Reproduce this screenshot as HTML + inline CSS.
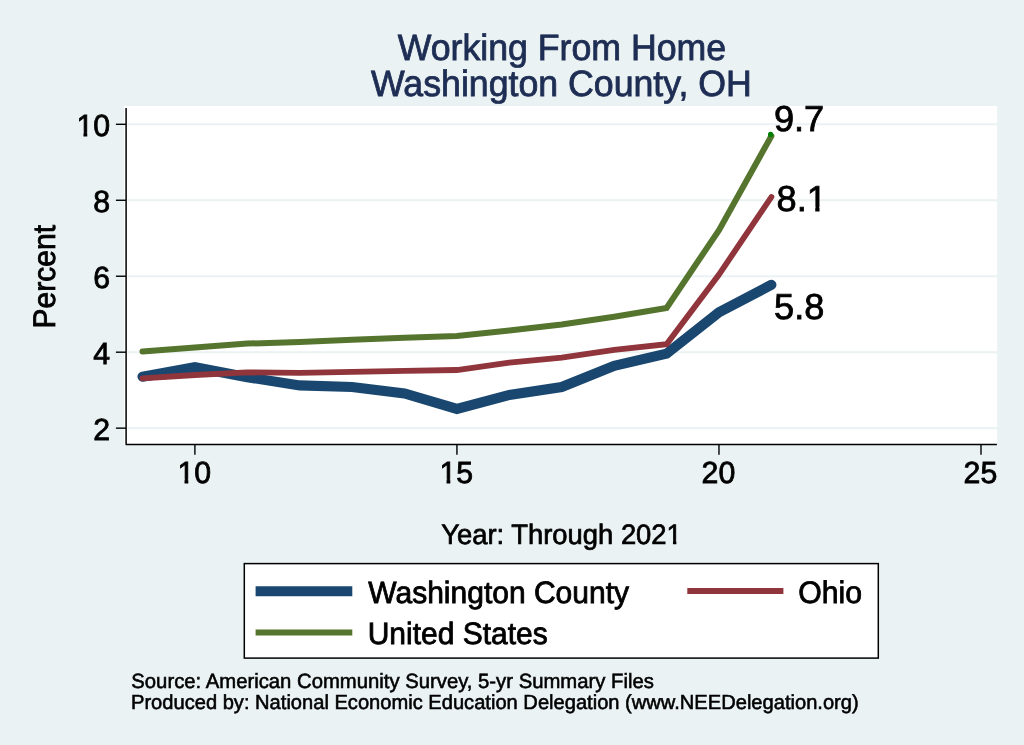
<!DOCTYPE html>
<html><head><meta charset="utf-8"><title>Working From Home - Washington County, OH</title>
<style>
html,body{margin:0;padding:0;background:#eaf2f3;overflow:hidden;}
svg{display:block;}
text{font-family:"Liberation Sans",Arial,Helvetica,sans-serif;text-rendering:geometricPrecision;}
</style></head><body>
<svg width="1024" height="745" viewBox="0 0 1024 745">
<rect x="0" y="0" width="1024" height="745" fill="#eaf2f3"/>
<rect x="124.1" y="106" width="873" height="339" fill="#ffffff"/>
<line x1="127.5" x2="997" y1="428.15" y2="428.15" stroke="#eaf2f3" stroke-width="2.1"/>
<line x1="127.5" x2="997" y1="352.19" y2="352.19" stroke="#eaf2f3" stroke-width="2.1"/>
<line x1="127.5" x2="997" y1="276.23" y2="276.23" stroke="#eaf2f3" stroke-width="2.1"/>
<line x1="127.5" x2="997" y1="200.27" y2="200.27" stroke="#eaf2f3" stroke-width="2.1"/>
<line x1="127.5" x2="997" y1="124.31" y2="124.31" stroke="#eaf2f3" stroke-width="2.1"/>

<polyline points="142.5,376.7 194.9,367.2 247.3,377.2 299.7,385.4 352.1,387.0 404.5,393.5 456.9,408.9 509.3,394.9 561.7,387.0 614.2,365.8 666.6,353.6 719.0,312.3 771.4,284.8" fill="none" stroke="#1a476f" stroke-width="10.1" stroke-linecap="round" stroke-linejoin="miter"/>
<polyline points="142.5,378.3 194.9,375.0 247.3,372.4 299.7,372.9 352.1,371.8 404.5,370.8 456.9,370.0 509.3,362.7 561.7,357.6 614.2,349.9 666.6,344.2 719.0,274.5 771.4,197.0" fill="none" stroke="#90353b" stroke-width="5.8" stroke-linecap="round" stroke-linejoin="miter"/>
<polyline points="142.5,351.5 194.9,347.5 247.3,343.6 299.7,341.9 352.1,339.7 404.5,337.8 456.9,336.0 509.3,330.4 561.7,324.5 614.2,316.7 666.6,307.9 719.0,230.1 771.4,136.0" fill="none" stroke="#55752f" stroke-width="6.0" stroke-linecap="round" stroke-linejoin="miter"/>
<circle cx="770.6" cy="134.4" r="2.6" fill="#008000"/>
<polyline points="126.1,107.9 126.1,444.5 996.9,444.5" fill="none" stroke="#000" stroke-width="1.5" stroke-linejoin="round"/>
<line x1="115.9" x2="126" y1="428.15" y2="428.15" stroke="#000" stroke-width="1.4"/>
<line x1="115.9" x2="126" y1="352.19" y2="352.19" stroke="#000" stroke-width="1.4"/>
<line x1="115.9" x2="126" y1="276.23" y2="276.23" stroke="#000" stroke-width="1.4"/>
<line x1="115.9" x2="126" y1="200.27" y2="200.27" stroke="#000" stroke-width="1.4"/>
<line x1="115.9" x2="126" y1="124.31" y2="124.31" stroke="#000" stroke-width="1.4"/>
<line y1="444.5" y2="454.7" x1="194.90" x2="194.90" stroke="#000" stroke-width="1.4"/>
<line y1="444.5" y2="454.7" x1="456.93" x2="456.93" stroke="#000" stroke-width="1.4"/>
<line y1="444.5" y2="454.7" x1="718.97" x2="718.97" stroke="#000" stroke-width="1.4"/>
<line y1="444.5" y2="454.7" x1="981.00" x2="981.00" stroke="#000" stroke-width="1.4"/>

<g><g transform="translate(110.10,440.00) scale(1,1.008)"><text class="tx" font-size="30.30" text-anchor="end" fill="#000" stroke="#000" stroke-width="0.80">2</text></g>
<g transform="translate(110.10,364.00) scale(1,1.008)"><text class="tx" font-size="30.30" text-anchor="end" fill="#000" stroke="#000" stroke-width="0.80">4</text></g>
<g transform="translate(110.10,288.00) scale(1,1.008)"><text class="tx" font-size="30.30" text-anchor="end" fill="#000" stroke="#000" stroke-width="0.80">6</text></g>
<g transform="translate(110.10,212.00) scale(1,1.008)"><text class="tx" font-size="30.30" text-anchor="end" fill="#000" stroke="#000" stroke-width="0.80">8</text></g>
<g transform="translate(110.10,136.00) scale(1,1.008)"><text class="tx" font-size="30.30" text-anchor="end" fill="#000" stroke="#000" stroke-width="0.80">10</text><rect x="-32.79" y="-3.65" width="6.16" height="5.64" fill="#eaf2f3"/><rect x="-22.85" y="-3.65" width="6.12" height="5.64" fill="#eaf2f3"/></g>
</g>
<g><g transform="translate(194.30,483.00) scale(1,1.008)"><text class="tx" font-size="30.30" text-anchor="middle" fill="#000" stroke="#000" stroke-width="0.80">10</text><rect x="-15.94" y="-3.65" width="6.16" height="5.64" fill="#eaf2f3"/><rect x="-6.00" y="-3.65" width="6.12" height="5.64" fill="#eaf2f3"/></g>
<g transform="translate(456.33,483.00) scale(1,1.008)"><text class="tx" font-size="30.30" text-anchor="middle" fill="#000" stroke="#000" stroke-width="0.80">15</text><rect x="-15.94" y="-3.65" width="6.16" height="5.64" fill="#eaf2f3"/><rect x="-6.00" y="-3.65" width="6.12" height="5.64" fill="#eaf2f3"/></g>
<g transform="translate(718.37,483.00) scale(1,1.008)"><text class="tx" font-size="30.30" text-anchor="middle" fill="#000" stroke="#000" stroke-width="0.80">20</text></g>
<g transform="translate(980.40,483.00) scale(1,1.008)"><text class="tx" font-size="30.30" text-anchor="middle" fill="#000" stroke="#000" stroke-width="0.80">25</text></g>
</g>
<g transform="translate(773.90,131.00) scale(1,0.995)"><text class="tx" font-size="36.20" text-anchor="start" fill="#000" stroke="#000" stroke-width="0.80" id="l97">9.7</text></g>
<g transform="translate(776.50,211.00) scale(1,0.995)"><text class="tx" font-size="36.20" text-anchor="start" fill="#000" stroke="#000" stroke-width="0.80" id="l81">8.1</text><rect x="31.26" y="-4.11" width="7.47" height="6.12" fill="#ffffff"/><rect x="43.03" y="-4.11" width="7.41" height="6.12" fill="#ffffff"/></g>
<g transform="translate(774.00,319.00) scale(1,0.995)"><text class="tx" font-size="36.20" text-anchor="start" fill="#000" stroke="#000" stroke-width="0.80" id="l58">5.8</text></g>

<g transform="translate(561.90,60.00) scale(1,1.026)"><text class="tx" font-size="35.70" text-anchor="middle" fill="#1e2d53" stroke="#1e2d53" stroke-width="0.80" id="t1">Working From Home</text></g>
<g transform="translate(561.40,96.00) scale(1,1.026)"><text class="tx" font-size="35.70" text-anchor="middle" fill="#1e2d53" stroke="#1e2d53" stroke-width="0.80" id="t2">Washington County, OH</text></g>

<g transform="translate(54.60,276.70) rotate(-90) scale(1,1.042)"><text class="tx" font-size="30.00" text-anchor="middle" fill="#000" stroke="#000" stroke-width="0.80" id="yt">Percent</text></g>

<g transform="translate(561.50,544.00) scale(1,1.024)"><text class="tx" font-size="27.40" text-anchor="middle" fill="#000" stroke="#000" stroke-width="0.70" id="xt">Year: Through 2021</text><rect x="105.89" y="-3.41" width="5.57" height="5.37" fill="#eaf2f3"/><rect x="114.89" y="-3.41" width="5.53" height="5.37" fill="#eaf2f3"/></g>

<rect x="244.3" y="563.6" width="634" height="94.5" fill="#ffffff" stroke="#000" stroke-width="1.5"/>
<line x1="255.6" x2="352.3" y1="591.2" y2="591.2" stroke="#1a476f" stroke-width="10.1"/>
<line x1="255.6" x2="352.3" y1="632.5" y2="632.5" stroke="#55752f" stroke-width="6.0"/>
<line x1="687.3" x2="783.4" y1="591" y2="591" stroke="#90353b" stroke-width="5.8"/>
<g transform="translate(368.30,603.00) scale(1,1.027)"><text class="tx" font-size="30.00" text-anchor="start" fill="#000" stroke="#000" stroke-width="0.80" id="k1">Washington County</text></g>
<g transform="translate(367.70,644.00) scale(1,1.027)"><text class="tx" font-size="30.00" text-anchor="start" fill="#000" stroke="#000" stroke-width="0.80" id="k3">United States</text></g>
<g transform="translate(798.30,603.00) scale(1,1.027)"><text class="tx" font-size="30.20" text-anchor="start" fill="#000" stroke="#000" stroke-width="0.80" id="k2">Ohio</text></g>

<g transform="translate(131.30,688.00) scale(1,1.014)"><text class="tx" font-size="20.30" text-anchor="start" fill="#000" stroke="#000" stroke-width="0.55" id="n1">Source: American Community Survey, 5-yr Summary Files</text></g>
<g transform="translate(131.00,709.00) scale(1,1.014)"><text class="tx" font-size="20.13" text-anchor="start" fill="#000" stroke="#000" stroke-width="0.55" id="n2">Produced by: National Economic Education Delegation (www.NEEDelegation.org)</text></g>

</svg>
</body></html>
